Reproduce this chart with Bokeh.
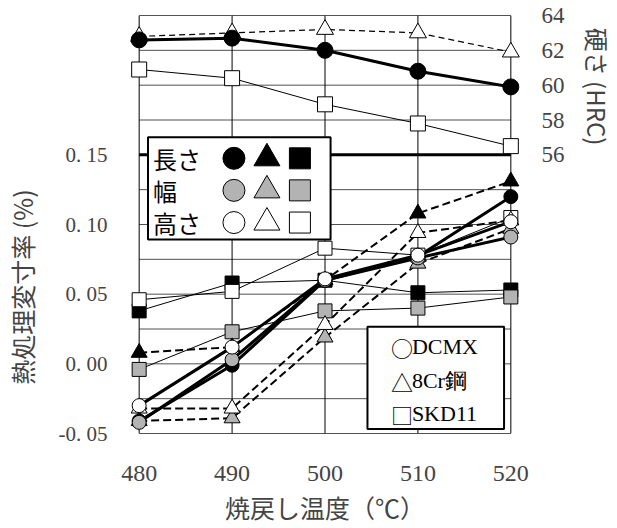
from bokeh.plotting import figure
from bokeh.models import Range1d, LinearAxis, FixedTicker
from bokeh.core.properties import value
from bokeh.embed import file_html
from bokeh.resources import INLINE

# ---------------- data ----------------
temps = [480, 490, 500, 510, 520]

# heat-treatment dimensional change (%)
dcmx_len = [-0.041, -0.001, 0.060, 0.077, 0.120]
dcmx_wid = [-0.042, 0.003, 0.060, 0.076, 0.091]
dcmx_hgt = [-0.030, 0.012, 0.061, 0.078, 0.102]
cr8_len = [0.008, 0.012, 0.060, 0.108, 0.131]
cr8_wid = [-0.041, -0.039, 0.019, 0.072, 0.097]
cr8_hgt = [-0.032, -0.032, 0.028, 0.094, 0.103]
skd_len = [0.038, 0.058, 0.060, 0.051, 0.053]
skd_wid = [-0.004, 0.023, 0.038, 0.040, 0.048]
skd_hgt = [0.046, 0.052, 0.083, 0.078, 0.105]

# hardness (HRC)
hrc_dcmx = [62.6, 62.7, 62.0, 60.8, 59.9]
hrc_8cr = [62.8, 63.0, 63.2, 63.0, 61.9]
hrc_skd = [60.9, 60.4, 58.9, 57.8, 56.5]

left_ticks = [-0.05, 0.0, 0.05, 0.1, 0.15]
left_labels = ["-0. 05", "0. 00", "0. 05", "0. 10", "0. 15"]
right_ticks = [56, 58, 60, 62, 64]
grid_y = [-0.05, -0.025, 0.0, 0.025, 0.05, 0.075, 0.1, 0.125, 0.15, 0.175, 0.2, 0.225, 0.25]

x_title = "焼戻し温度（℃）"
y_title = "熱処理変寸率 (%)"
y2_title = "硬さ (HRC)"
dim_names = ["長さ", "幅", "高さ"]
steel_symbols = ["○", "△", "□"]
steel_names = ["DCMX", "8Cr鋼", "SKD11"]

X0, X1 = 480, 520
Y0, Y1 = -0.05, 0.25

JP = value("Noto Sans CJK JP")
SERIF = "Liberation Serif"
GRAY = "#b3b3b3"
fills = ["black", GRAY, "white"]
# ideographic spaces pad the axis titles so they sit over the bounded part of the axes
PAD = "\u3000"

p = figure(width=617, height=528, output_backend="svg", toolbar_location=None,
           x_range=Range1d(478.53, 521.47), y_range=Range1d(Y0, Y1),
           min_border_left=117, min_border_right=91, min_border_top=15,
           min_border_bottom=95)
p.outline_line_color = None
p.xgrid.visible = False
p.ygrid.visible = False
p.extra_y_ranges = {"hrc": Range1d(40, 64)}

# ---------------- frame & grid ----------------
p.segment(x0=X0, x1=X1, y0=grid_y, y1=grid_y, line_color="#505050", line_width=1)
p.segment(x0=temps, x1=temps, y0=Y0, y1=Y1, line_color="black", line_width=1)
p.segment(x0=[X0, X0], x1=[X1, X1], y0=[Y0, Y1], y1=[Y0, Y1], line_color="black", line_width=1)
p.segment(x0=X0, x1=X1, y0=0.15, y1=0.15, line_color="black", line_width=3)

# ---------------- axes ----------------
xa = p.xaxis[0]
xa.ticker = FixedTicker(ticks=temps)
xa.axis_line_color = None
xa.major_tick_line_color = None
xa.minor_tick_line_color = None
xa.major_label_text_font = SERIF
xa.major_label_text_font_size = "24px"
xa.major_label_standoff = 26
xa.axis_label = x_title
xa.axis_label_text_font = "Noto Sans CJK JP"
xa.axis_label_text_font_size = "25px"
xa.axis_label_text_font_style = "normal"
xa.axis_label_standoff = 5

ya = p.yaxis[0]
ya.ticker = FixedTicker(ticks=left_ticks)
ya.bounds = (-0.05, 0.15)
ya.major_label_overrides = dict(zip(left_ticks, left_labels))
ya.axis_line_color = None
ya.major_tick_line_color = None
ya.minor_tick_line_color = None
ya.major_label_text_font = SERIF
ya.major_label_text_font_size = "21px"
ya.major_label_standoff = 12
ya.axis_label = y_title + PAD * 5
ya.axis_label_text_font = "Noto Sans CJK JP"
ya.axis_label_text_font_size = "25px"
ya.axis_label_text_font_style = "normal"
ya.axis_label_standoff = 16

ra = LinearAxis(y_range_name="hrc", ticker=FixedTicker(ticks=right_ticks), bounds=(56, 64))
ra.axis_line_color = None
ra.major_tick_line_color = None
ra.minor_tick_line_color = None
ra.major_label_text_font = SERIF
ra.major_label_text_font_size = "23px"
ra.major_label_standoff = 11
ra.axis_label = y2_title + PAD * 11 + "\u2002"
ra.axis_label_text_font = "Noto Sans CJK JP"
ra.axis_label_text_font_size = "24px"
ra.axis_label_text_font_style = "normal"
ra.axis_label_standoff = 12
p.add_layout(ra, "right")

# ---------------- hardness (right axis) ----------------
p.line(temps, hrc_8cr, y_range_name="hrc", line_color="black", line_width=1.2, line_dash="6 4")
p.line(temps, hrc_skd, y_range_name="hrc", line_color="black", line_width=1)
p.line(temps, hrc_dcmx, y_range_name="hrc", line_color="black", line_width=3)
p.scatter(temps, hrc_skd, y_range_name="hrc", marker="square", size=15,
          fill_color="white", line_color="black", line_width=1)
p.scatter(temps, hrc_8cr, y_range_name="hrc", marker="triangle", size=17,
          fill_color="white", line_color="black", line_width=1)
p.scatter(temps, hrc_dcmx, y_range_name="hrc", marker="circle", size=16,
          fill_color="black", line_color="black", line_width=1)

# ---------------- dimensional change ----------------
skd = [skd_len, skd_wid, skd_hgt]
cr8 = [cr8_len, cr8_wid, cr8_hgt]
dcmx = [dcmx_len, dcmx_wid, dcmx_hgt]

for ys in skd:
    p.line(temps, ys, line_color="black", line_width=1)
for ys in cr8:
    p.line(temps, ys, line_color="black", line_width=2, line_dash="8 4")
for ys in dcmx:
    p.line(temps, ys, line_color="black", line_width=3)

for ys, fc in zip(skd, fills):
    p.scatter(temps, ys, marker="square", size=14, fill_color=fc, line_color="black", line_width=1)
for ys, fc in zip(cr8, fills):
    p.scatter(temps, ys, marker="triangle", size=16, fill_color=fc, line_color="black", line_width=1)
for ys, fc in zip(dcmx, fills):
    p.scatter(temps, ys, marker="circle", size=14, fill_color=fc, line_color="black", line_width=1)

# ---------------- legend box 1 (dimension) ----------------
p.quad(left=480.95, right=500.6, top=0.1626, bottom=0.0892,
       fill_color="white", line_color="black", line_width=2)
row_y = [0.1475, 0.1245, 0.1014]
p.text(x=[481.5] * 3, y=row_y, text=dim_names, text_font=JP, text_font_size="24px",
       text_align="left", text_baseline="middle", text_color="black")
for mk, mx, sz in [("circle", 490.2, 22), ("triangle", 493.75, 26), ("square", 497.3, 21)]:
    p.scatter([mx] * 3, row_y, marker=mk, size=sz, fill_color=fills,
              line_color="black", line_width=1)

# ---------------- legend box 2 (steel) ----------------
p.quad(left=504.57, right=519.27, top=0.0266, bottom=-0.0468,
       fill_color="white", line_color="black", line_width=2)
row2_y = [0.0122, -0.0122, -0.036]
p.text(x=[508.3] * 3, y=row2_y, text=steel_symbols, text_font=JP, text_font_size="22px",
       text_align="center", text_baseline="middle", text_color="black")
p.text(x=[509.35] * 3, y=row2_y, text=steel_names,
       text_font=value(SERIF), text_font_size="22px",
       text_align="left", text_baseline="middle", text_color="black")

open("out.html", "w").write(file_html(p, INLINE))
